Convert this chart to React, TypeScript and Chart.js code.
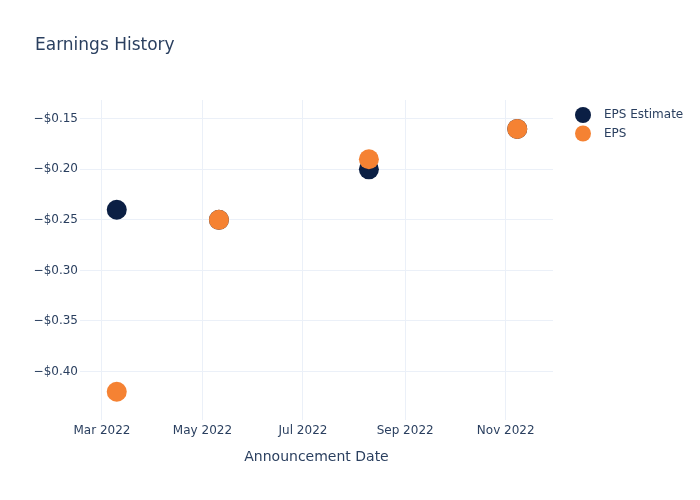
import React, { useEffect, useRef } from "react";
import { Chart, registerables } from "chart.js";

Chart.register(...registerables);

const dates = ["2022-03-10", "2022-05-11", "2022-08-10", "2022-11-08"];
const epsEstimate = [-0.24, -0.25, -0.2, -0.16];
const eps = [-0.42, -0.25, -0.19, -0.16];
const xTickDates = ["2022-03-01", "2022-05-01", "2022-07-01", "2022-09-01", "2022-11-01"];
const yTickValues = [-0.4, -0.35, -0.3, -0.25, -0.2, -0.15];
const monthNames = ["Jan", "Feb", "Mar", "Apr", "May", "Jun", "Jul", "Aug", "Sep", "Oct", "Nov", "Dec"];

const NAVY = "#0b1f44";
const ORANGE = "#f58233";
const TEXT = "#2a3f5f";
const GRID = "#ebf0f8";
const FONT = "'DejaVu Sans', sans-serif";

const toMs = (s: string) => Date.UTC(+s.slice(0, 4), +s.slice(5, 7) - 1, +s.slice(8, 10));
const DAY = 86400000;

export default function App() {
  const ref = useRef<HTMLCanvasElement>(null);
  useEffect(() => {
    if (!ref.current) return;
    const overlay = {
      id: "overlay",
      afterDraw(chart: any) {
        const ctx = chart.ctx;
        const area = chart.chartArea;
        ctx.save();
        ctx.fillStyle = TEXT;
        ctx.textBaseline = "middle";
        ctx.textAlign = "left";
        ctx.font = `17px ${FONT}`;
        ctx.fillText("Earnings History", 35, 45.5);
        ctx.font = `14px ${FONT}`;
        ctx.textAlign = "center";
        ctx.fillText("Announcement Date", (area.left + area.right) / 2, 457);
        const items = [
          { label: "EPS Estimate", color: NAVY },
          { label: "EPS", color: ORANGE },
        ];
        ctx.font = `12px ${FONT}`;
        ctx.textAlign = "left";
        items.forEach((it, i) => {
          const y = 115 + i * 18.5;
          ctx.beginPath();
          ctx.arc(583, y, 8, 0, Math.PI * 2);
          ctx.fillStyle = it.color;
          ctx.fill();
          ctx.fillStyle = TEXT;
          ctx.fillText(it.label, 604, y);
        });
        ctx.restore();
      },
    };
    const chart = new Chart(ref.current, {
      type: "scatter",
      data: {
        datasets: [
          {
            label: "EPS Estimate",
            data: dates.map((d, i) => ({ x: toMs(d), y: epsEstimate[i] })),
            backgroundColor: NAVY,
            borderColor: NAVY,
            borderWidth: 0,
            pointRadius: 10,
            order: 1,
          },
          {
            label: "EPS",
            data: dates.map((d, i) => ({ x: toMs(d), y: eps[i] })),
            backgroundColor: ORANGE,
            borderColor: ORANGE,
            borderWidth: 0,
            pointRadius: 10,
            order: 0,
          },
        ],
      },
      options: {
        animation: false,
        responsive: false,
        maintainAspectRatio: false,
        layout: { padding: { top: 100, right: 147, left: 0, bottom: 0 } },
        plugins: { legend: { display: false }, title: { display: false }, tooltip: { enabled: false } },
        scales: {
          x: {
            type: "linear",
            min: toMs("2022-03-01") - 13.3 * DAY,
            max: toMs("2022-11-01") + 28.7 * DAY,
            border: { display: false },
            grid: { color: GRID, lineWidth: 1, drawTicks: false },
            afterBuildTicks: (axis: any) => {
              axis.ticks = xTickDates.map((d) => ({ value: toMs(d) }));
            },
            afterFit: (axis: any) => {
              axis.height = 80;
            },
            ticks: {
              color: TEXT,
              font: { family: FONT, size: 12 },
              padding: 4,
              maxRotation: 0,
              autoSkip: false,
              callback: (v: any) => {
                const d = new Date(v);
                return `${monthNames[d.getUTCMonth()]} ${d.getUTCFullYear()}`;
              },
            },
          },
          y: {
            min: -0.448,
            max: -0.1314,
            border: { display: false },
            grid: { color: GRID, lineWidth: 1, drawTicks: false },
            afterBuildTicks: (axis: any) => {
              axis.ticks = yTickValues.map((v) => ({ value: v }));
            },
            afterFit: (axis: any) => {
              axis.width = 80;
            },
            ticks: {
              color: TEXT,
              font: { family: FONT, size: 12 },
              padding: 2,
              callback: (v: any) => "\u2212$" + Math.abs(v).toFixed(2),
            },
          },
        },
      },
      plugins: [overlay],
    } as any);
    return () => chart.destroy();
  }, []);
  return (
    <div style={{ position: "fixed", left: 0, top: 0, width: 700, height: 500, background: "#fff" }}>
      <canvas ref={ref} width={700} height={500} style={{ width: 700, height: 500 }} />
    </div>
  );
}
